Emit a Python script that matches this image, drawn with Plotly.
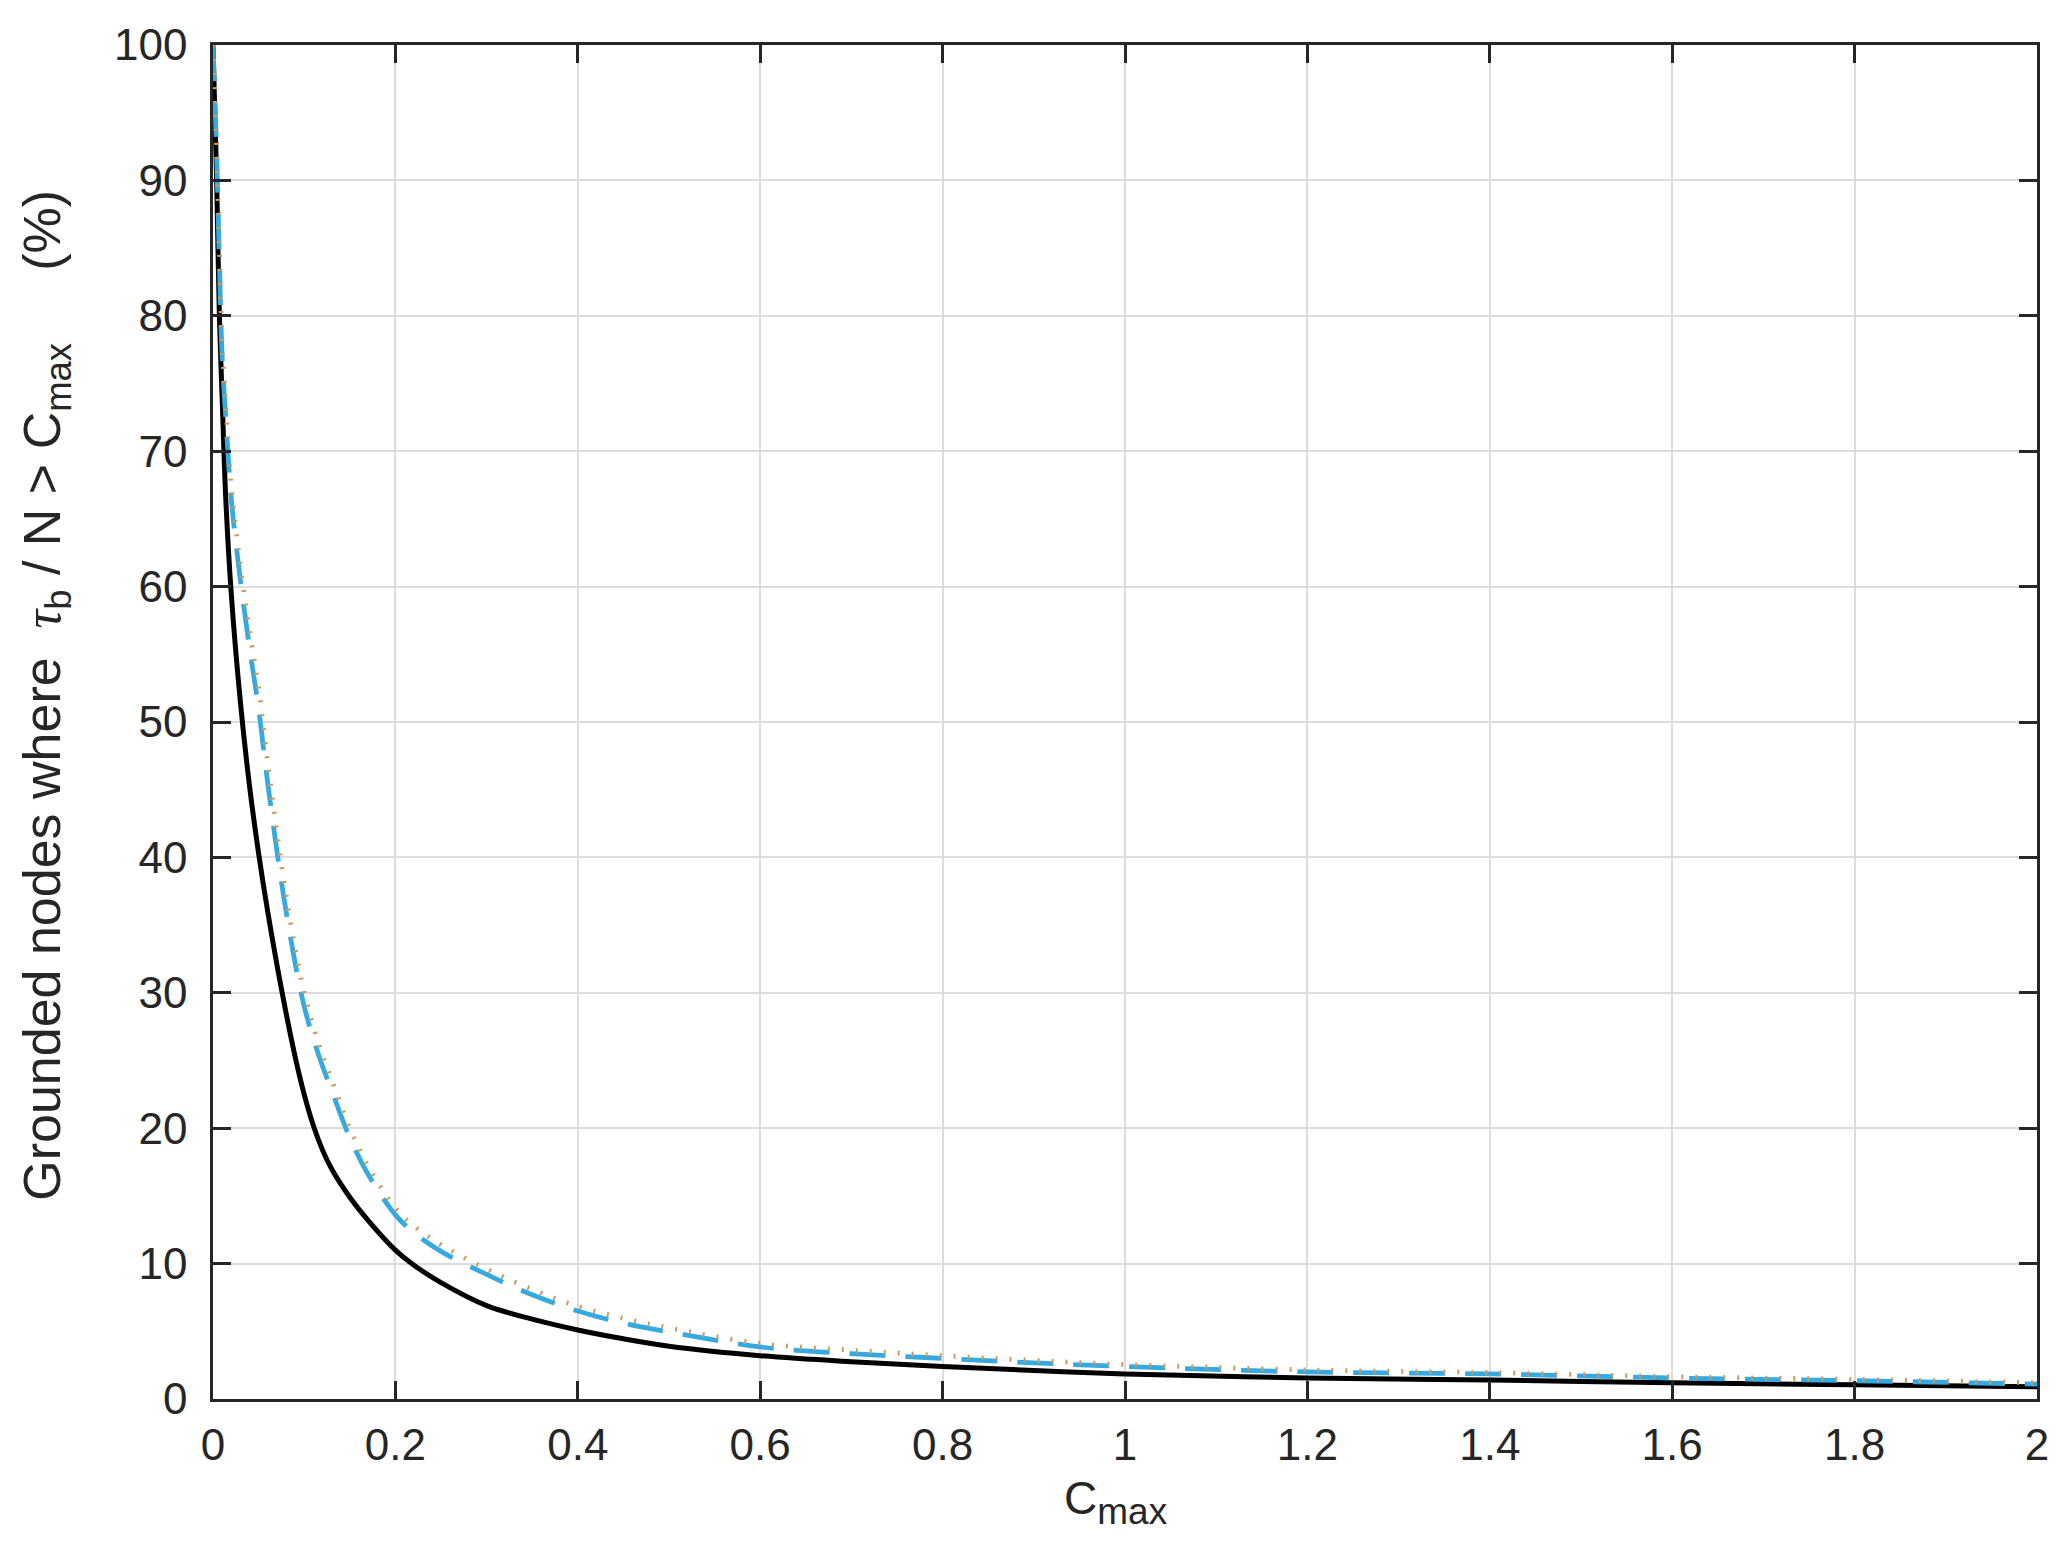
"""Percentage of grounded nodes above a threshold C_max (three runs)."""

import plotly.graph_objects as go

# threshold values C_max
c_max = [0, 0.002, 0.004, 0.007, 0.01, 0.014, 0.02, 0.03, 0.04, 0.05, 0.06,
         0.075, 0.09, 0.1, 0.11, 0.12, 0.13, 0.15, 0.17, 0.2, 0.22, 0.25,
         0.3, 0.35, 0.4, 0.45, 0.5, 0.6, 0.7, 0.8, 0.9, 1.0, 1.2, 1.4, 1.6,
         1.8, 2.0]

# share of grounded nodes (%) for each run
pct_solid = [100, 95, 90, 80, 74, 66.5, 59.5, 51.5, 45.3, 40.3, 36.0,
             30.3, 25.3, 22.5, 20.2, 18.4, 17.0, 14.9, 13.2, 11.0, 9.9, 8.6,
             6.9, 5.9, 5.1, 4.45, 3.9, 3.2, 2.75, 2.4, 2.1, 1.85, 1.55, 1.4,
             1.2, 1.05, 0.9]
pct_dashed = [100, 96, 92, 84, 77, 72.5, 66.5, 60.5, 55.5, 51, 45.5,
              38.2, 32.2, 29, 26.6, 24.6, 22.8, 19.3, 16.6, 13.6, 12.3, 10.9,
              9.2, 7.7, 6.5, 5.6, 4.95, 3.85, 3.35, 3.0, 2.67, 2.4, 2.0, 1.85,
              1.55, 1.35, 1.1]
pct_dotted = [100, 96.5, 92.5, 85, 78, 73.5, 67.5, 61.5, 56.8, 52.5, 47,
              39.5, 33.3, 30, 27.5, 25.4, 23.6, 20, 17.2, 14.1, 12.8, 11.4,
              9.6, 8.1, 6.85, 5.95, 5.25, 4.1, 3.6, 3.2, 2.85, 2.55, 2.15,
              1.95, 1.65, 1.45, 1.2]

x_ticks = [0, 0.2, 0.4, 0.6, 0.8, 1, 1.2, 1.4, 1.6, 1.8, 2]
y_ticks = list(range(0, 101, 10))

TEXT = "#262626"
FONT = "Liberation Sans, Arial, Helvetica, sans-serif"

fig = go.Figure()

fig.add_trace(go.Scatter(
    x=c_max, y=pct_solid, mode="lines",
    line=dict(color="#000000", width=5, shape="spline", smoothing=1.0),
))
fig.add_trace(go.Scatter(
    x=c_max, y=pct_dashed, mode="lines",
    line=dict(color="#36A9E1", width=4.8, dash="36px,20px",
              shape="spline", smoothing=1.0),
))
fig.add_trace(go.Scatter(
    x=c_max, y=pct_dotted, mode="lines",
    line=dict(color="#CC9A5C", width=4.8, dash="2px,12px",
              shape="spline", smoothing=1.0),
))

axis_common = dict(
    showline=True, linecolor=TEXT, linewidth=2.5, mirror="ticks",
    ticks="inside", ticklen=18, tickwidth=2.5, tickcolor=TEXT,
    showgrid=True, gridcolor="#DCDCDC", gridwidth=2,
    zeroline=False,
    tickfont=dict(family=FONT, size=44, color=TEXT),
)

fig.update_xaxes(range=[0, 2], tickvals=x_ticks, ticklabelstandoff=5,
                 **axis_common)
fig.update_yaxes(range=[0, 100], tickvals=y_ticks, ticklabelstandoff=14,
                 **axis_common)

# axis titles as annotations so they can be placed like the original
fig.add_annotation(
    text="C<sub><span style='font-size:37px'>max</span></sub>",
    xref="paper", yref="paper", x=0.495, y=-0.0526,
    xanchor="center", yanchor="top", showarrow=False,
    font=dict(family=FONT, size=46, color=TEXT),
)
fig.add_annotation(
    text=("Grounded nodes where&nbsp;&nbsp;"
          "<span style='font-family:Liberation Serif'><i>τ</i></span>"
          "<sub>b</sub> / N &gt; C<sub>max</sub>&nbsp;&nbsp;&nbsp;&nbsp; (%)"),
    xref="paper", yref="paper", x=-0.092, y=0.5195,
    xanchor="center", yanchor="middle", textangle=-90, showarrow=False,
    font=dict(family=FONT, size=52, color=TEXT),
)

# the page adds an 8px body margin, so the margins are offset by it
fig.update_layout(
    width=2067, height=1564,
    margin=dict(l=205, r=38, t=30, b=173),
    paper_bgcolor="white", plot_bgcolor="white",
    showlegend=False,
)

fig.write_html("out.html")
